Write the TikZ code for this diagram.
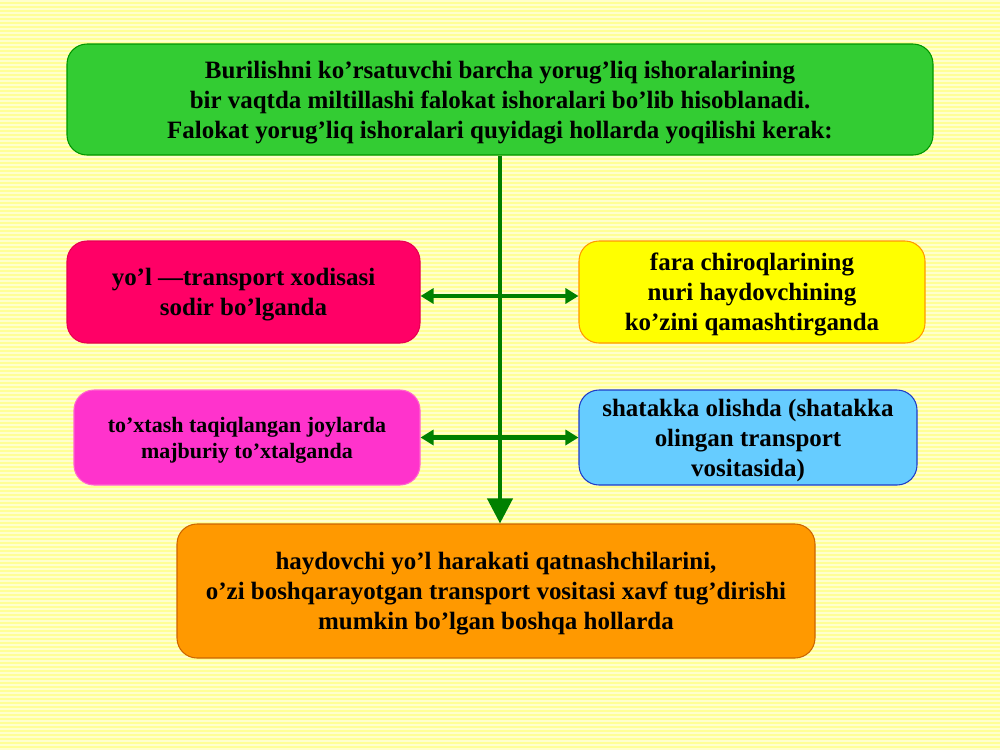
\documentclass[tikz,border=0pt]{standalone}
\usepackage{fontspec}
\setmainfont{Liberation Serif}
\usetikzlibrary{shapes.geometric,arrows.meta}
\definecolor{bgyellow}{RGB}{255,255,150}
\definecolor{bgstripe}{RGB}{255,255,205}
\definecolor{arrowgreen}{RGB}{0,128,0}
\tikzstyle{box} = [rectangle, rounded corners=0.4cm, text centered, align=center, inner sep=0pt, text depth=-0.25cm, line width=0.6pt, font=\bfseries\fontsize{14.2}{17.1}\selectfont]
\tikzstyle{mainbox} = [box, minimum width=17.32cm, minimum height=2.22cm, draw={rgb,255:red,0;green,150;blue,0}, fill={rgb,255:red,51;green,204;blue,51}]
\tikzstyle{redbox} = [box, minimum width=7.06cm, minimum height=2.04cm, draw={rgb,255:red,230;green,0;blue,80}, fill={rgb,255:red,255;green,0;blue,102}]
\tikzstyle{yellowbox} = [box, minimum width=6.92cm, minimum height=2.04cm, draw={rgb,255:red,255;green,153;blue,0}, fill={rgb,255:red,255;green,255;blue,0}]
\tikzstyle{pinkbox} = [box, minimum width=6.92cm, minimum height=1.9cm, draw={rgb,255:red,255;green,102;blue,204}, fill={rgb,255:red,255;green,51;blue,204}, font=\bfseries\fontsize{12.5}{14.8}\selectfont]
\tikzstyle{bluebox} = [box, minimum width=6.76cm, minimum height=1.9cm, draw={rgb,255:red,30;green,60;blue,200}, fill={rgb,255:red,102;green,204;blue,255}]
\tikzstyle{orangebox} = [box, minimum width=12.76cm, minimum height=2.68cm, draw={rgb,255:red,204;green,102;blue,0}, fill={rgb,255:red,255;green,153;blue,0}]
\tikzstyle{arrow} = [line width=2.3pt, draw=arrowgreen, -{Triangle[length=0.5cm,width=0.5cm]}]
\tikzstyle{twoway} = [line width=2.3pt, draw=arrowgreen, {Triangle[length=0.26cm,width=0.3cm]}-{Triangle[length=0.26cm,width=0.3cm]}]

\begin{document}
\begin{tikzpicture}
\useasboundingbox (0,0) rectangle (20,-15);
% striped background
\fill[bgyellow] (0,0) rectangle (20,-15);
\foreach \y in {0,0.08,...,15}
  \fill[bgstripe] (0,-\y) rectangle (20,-\y-0.035);

\node (Hazard)[mainbox] at (10,-1.99) {Burilishni ko’rsatuvchi barcha yorug’liq ishoralarining\\ bir vaqtda miltillashi falokat ishoralari bo’lib hisoblanadi.\\ Falokat yorug’liq ishoralari quyidagi hollarda yoqilishi kerak:};

\node (Accident)[redbox] at (4.87,-5.84) {yo’l —transport xodisasi\\ sodir bo’lganda};
\node (Headlight)[yellowbox] at (15.04,-5.84) {fara chiroqlarining\\ nuri haydovchining\\ ko’zini qamashtirganda};

\node (ForcedStop)[pinkbox] at (4.94,-8.75) {to’xtash taqiqlangan joylarda\\ majburiy to’xtalganda};
\node (Towing)[bluebox] at (14.96,-8.75) {shatakka olishda (shatakka\\ olingan transport\\ vositasida)};

\node (OtherCases)[orangebox] at (9.92,-11.82) {haydovchi yo’l harakati qatnashchilarini,\\ o’zi boshqarayotgan transport vositasi xavf tug’dirishi\\ mumkin bo’lgan boshqa hollarda};

\draw [arrow](Hazard.south) -- (Hazard.south |- OtherCases.north);
\draw [twoway]([yshift=-0.08cm]Accident.east) -- ([yshift=-0.08cm]Headlight.west);
\draw [twoway](ForcedStop.east) -- (Towing.west);
\end{tikzpicture}
\end{document}
